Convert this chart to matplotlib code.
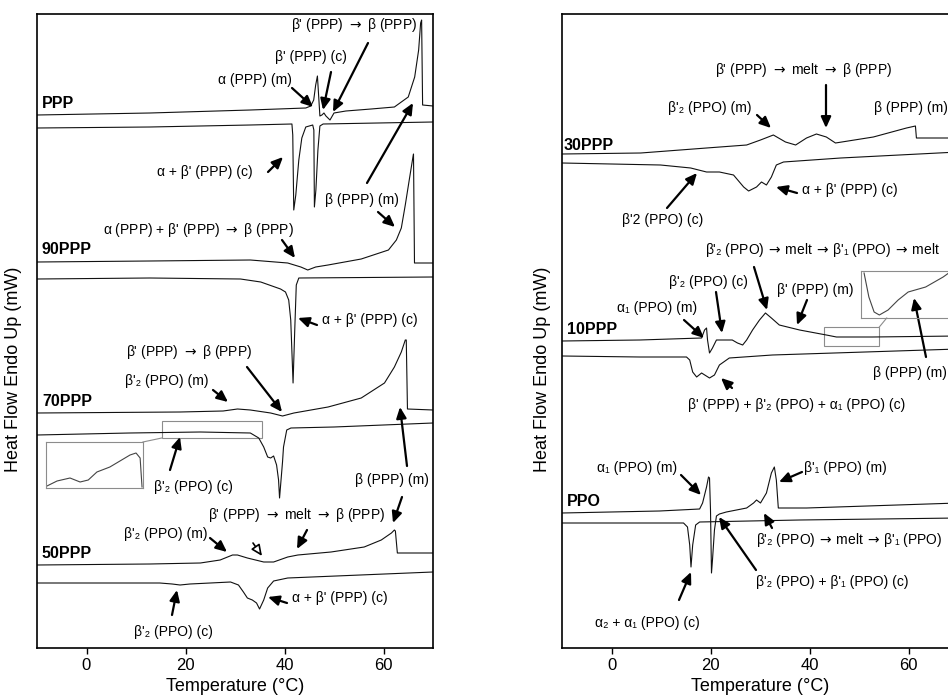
import matplotlib
matplotlib.use('Agg')
import matplotlib.pyplot as plt
from matplotlib.patches import Rectangle

plt.rcParams['font.family'] = ['Liberation Sans', 'DejaVu Sans']
plt.rcParams['mathtext.fontset'] = 'dejavusans'

W_PX, H_PX = 948, 697
TO = r' $\rightarrow$ '
TO_THIN = r'$\,\rightarrow\,$'   # for the labels that run into the right edge

# ---- left panel: PPP-rich blends (T in degC, heat flow in arbitrary units, offset stacked)
ppp_heat_T = [-10, 12.8, 33.1, 44.3, 45.3, 45.9, 46.3, 46.65, 46.95, 47.15, 47.56, 47.97, 48.37,
              49.19, 50.0, 52.4, 57.5, 62.2, 65.0, 66.3, 67.1, 67.5, 67.7, 67.9, 70]
ppp_heat_hf = [533, 535, 538, 540, 542, 548, 563, 572, 548, 532, 533, 535, 532,
               528, 535, 537, 539, 541, 551, 571, 598, 625, 628, 543, 542]
ppp_cool_T = [-10, 12.8, 33.1, 41.5, 41.67, 41.87, 42.28, 42.89, 43.5, 44.3, 45.7, 45.93,
              46.04, 46.34, 46.75, 47.15, 47.8, 70]
ppp_cool_hf = [520, 521, 523, 524, 513, 438, 453, 488, 510, 521, 523, 518,
               441, 458, 498, 522, 524, 526]

p90_heat_T = [-10, 12.8, 33.1, 40.65, 43.3, 44.7, 46.3, 48.8, 55.5, 61.0, 62.6, 63.6, 64.4,
              65.2, 65.85, 66.06, 66.26, 70]
p90_heat_hf = [386, 387, 388, 385, 381, 378, 381, 383, 389, 398, 408, 420, 443,
               468, 488, 494, 385, 385]
p90_cool_T = [-10, 12.8, 31.1, 35.2, 39.2, 40.2, 40.85, 41.26, 41.73, 42.07, 42.38, 42.89, 70]
p90_cool_hf = [369, 370, 369, 366, 359, 356, 348, 328, 265, 318, 363, 370, 371]

p70_heat_T = [-10, 18.9, 27.6, 30.5, 33.1, 37.2, 39.6, 41.9, 48.8, 55.5, 60.2, 62.2, 63.6,
              64.4, 64.6, 64.84, 70]
p70_heat_hf = [235, 236, 237, 239, 238, 235, 232, 235, 241, 250, 265, 281, 296,
               308, 308, 239, 238]
p70_cool_T = [-10, 8.7, 23.0, 33.1, 34.8, 35.8, 36.6, 37.2, 37.8, 38.4, 38.8, 39.0, 39.3,
              39.6, 39.8, 40.45, 41.3, 50.0, 70]
p70_cool_hf = [213, 215, 216, 215, 210, 201, 191, 190, 192, 183, 168, 150, 168,
               186, 201, 218, 220, 221, 225]

p50_heat_T = [-10, 12.8, 23.0, 27.0, 28.5, 29.5, 30.5, 32.5, 35.8, 37.8, 40.65, 42.7, 49.4,
              56.1, 59.55, 61.6, 62.2, 62.4, 62.8, 70]
p50_heat_hf = [83, 84, 85, 88, 91, 93, 93, 90, 86, 86, 91, 93, 96,
               101, 108, 115, 118, 117, 95, 95]
p50_cool_T = [-10, 14.8, 17.3, 18.9, 20.9, 29.1, 30.7, 31.7, 32.5, 33.5, 34.35, 34.96, 35.8,
              36.6, 37.8, 40.65, 70]
p50_cool_hf = [65, 65, 64, 63, 64, 66, 63, 56, 50, 48, 45, 39, 48, 60, 67, 70, 76]

# enlarged view of the 70PPP cooling trace
inset70_T = [15.4, 17.5, 20.2, 22.3, 24.0, 25.8, 28.5, 30.6, 32.7, 33.95, 34.8, 35.2]
inset70_hf = [2, 7, 10, 6, 8, 16, 21, 27, 33, 35, 30, 1]

# ---- right panel: PPO-rich blends
p30_heat_T = [-10, 5.9, 19.2, 27.3, 30.1, 32.7, 35.15, 37.2, 39.4, 41.4, 43.4, 45.25, 52.9,
              59.6, 61.4, 61.6, 70]
p30_heat_hf = [494, 495, 500, 503, 508, 513, 506, 503, 510, 514, 511, 505, 511,
               520, 522, 510, 510]
p30_cool_T = [-10, 9.9, 16.0, 19.2, 21.8, 24.65, 26.7, 27.7, 29.3, 30.3, 31.3, 32.3, 33.3,
              34.75, 46.3, 70]
p30_cool_hf = [485, 483, 480, 476, 476, 473, 461, 457, 461, 466, 463, 471, 483,
               486, 490, 496]

p10_heat_T = [-10, 5.7, 18.2, 18.8, 19.2, 19.4, 19.8, 20.4, 21.2, 24.4, 25.45, 26.5, 27.3,
              28.5, 29.9, 31.1, 32.3, 33.9, 38.0, 43.4, 45.45, 52.7, 70]
p10_heat_hf = [307, 308, 310, 318, 320, 308, 295, 300, 308, 308, 305, 303, 308,
               318, 328, 335, 330, 323, 318, 313, 311, 311, 312]
p10_cool_T = [-10, 5.7, 15.15, 15.8, 16.4, 17.2, 18.2, 19.8, 20.8, 21.8, 23.8, 32.5, 70]
p10_cool_hf = [292, 291, 291, 288, 276, 271, 275, 270, 273, 283, 290, 293, 299]

inset10_T = [43.35, 43.9, 44.5, 45.1, 46.1, 47.25, 48.4, 50.4, 52.4, 53.2, 54.1]
inset10_hf = [45, 21, 6, 3, 8, 18, 26, 31, 41, 46, 50]

ppo_heat_T = [-10, 9.7, 17.8, 18.4, 19.2, 19.6, 19.8, 20.0, 20.2, 20.4, 20.8, 21.2, 21.8,
              23.2, 27.3, 28.7, 29.3, 30.1, 31.3, 32.3, 32.9, 33.3, 33.7, 39.4, 70]
ppo_heat_hf = [135, 137, 139, 145, 161, 171, 170, 138, 75, 88, 118, 132, 134,
               136, 140, 145, 148, 145, 155, 175, 181, 168, 140, 140, 145]
ppo_cool_T = [-10, 14.55, 15.35, 15.8, 16.06, 16.4, 17.0, 17.8, 38.0, 70]
ppo_cool_hf = [125, 125, 121, 103, 81, 103, 123, 126, 128, 130]

x_ticks = [0, 20, 40, 60]

left_curves = [(ppp_heat_T, ppp_heat_hf), (ppp_cool_T, ppp_cool_hf),
               (p90_heat_T, p90_heat_hf), (p90_cool_T, p90_cool_hf),
               (p70_heat_T, p70_heat_hf), (p70_cool_T, p70_cool_hf),
               (p50_heat_T, p50_heat_hf), (p50_cool_T, p50_cool_hf)]
right_curves = [(p30_heat_T, p30_heat_hf), (p30_cool_T, p30_cool_hf),
                (p10_heat_T, p10_heat_hf), (p10_cool_T, p10_cool_hf),
                (ppo_heat_T, ppo_heat_hf), (ppo_cool_T, ppo_cool_hf)]

fig = plt.figure(figsize=(9.48, 6.97), dpi=100)
axL = fig.add_axes([37 / W_PX, 49 / H_PX, 396 / W_PX, 634 / H_PX])
axR = fig.add_axes([562 / W_PX, 49 / H_PX, 396 / W_PX, 634 / H_PX])

for ax, curves in ((axL, left_curves), (axR, right_curves)):
    for T, hf in curves:
        ax.plot(T, hf, color='#111111', lw=0.8)
    ax.set_xlim(-10, 70)
    ax.set_ylim(0, 634)
    ax.set_xticks(x_ticks)
    ax.set_yticks([])
    ax.tick_params(axis='x', direction='out', length=4, width=1, labelsize=12, pad=3)
    for s in ax.spines.values():
        s.set_linewidth(1.2)
    ax.set_xlabel('Temperature (°C)', fontsize=13, labelpad=4)
    ax.set_ylabel('Heat Flow Endo Up (mW)', fontsize=13)

axL.yaxis.set_label_coords(-0.038, 0.44)
axR.yaxis.set_label_coords(-0.028, 0.44)

grey = '#8c8c8c'
# zoom boxes and insets
axL.add_patch(Rectangle((15.2, 210), 20.2, 17, fill=False, ec=grey, lw=0.8))
axL.plot([11.4, 15.2], [206, 210], color=grey, lw=0.8, clip_on=False)
axR.add_patch(Rectangle((43.0, 302), 11.1, 19, fill=False, ec=grey, lw=0.8))
axR.plot([54.1, 55.6], [321, 330], color=grey, lw=0.8, clip_on=False)

insL = fig.add_axes([46 / W_PX, (H_PX - 488) / H_PX, 97 / W_PX, 46 / H_PX])
insL.plot(inset70_T, inset70_hf, color='#444444', lw=0.8)
insL.set_xlim(15.2, 35.4)
insL.set_ylim(0, 46)
insR = fig.add_axes([861 / W_PX, (H_PX - 318) / H_PX, 97 / W_PX, 47 / H_PX])
insR.plot(inset10_T, inset10_hf, color='#444444', lw=0.8)
insR.set_xlim(43.0, 54.1)
insR.set_ylim(0, 47)
for ins in (insL, insR):
    ins.set_xticks([])
    ins.set_yticks([])
    ins.patch.set_alpha(0)
    for s in ins.spines.values():
        s.set_edgecolor(grey)
        s.set_linewidth(0.8)


def put(x, y, s, ha='center', size=10, weight='normal'):
    fig.text(x / W_PX, 1 - y / H_PX, s, ha=ha, va='center', fontsize=size, fontweight=weight)


def arrow(x0, y0, x1, y1, hollow=False):
    ax = axL if x1 < 480 else axR
    ann = ax.annotate('', xy=(x1, H_PX - y1), xytext=(x0, H_PX - y0),
                      xycoords='figure pixels', textcoords='figure pixels',
                      annotation_clip=False,
                      arrowprops=dict(arrowstyle='-|>,head_length=0.55,head_width=0.25',
                                      lw=1.2 if hollow else 1.6, color='k',
                                      fc='white' if hollow else 'k',
                                      shrinkA=0, shrinkB=0, mutation_scale=12))
    ann.arrow_patch.set_clip_on(False)


# sample names
for x, y, s in [(42, 103, 'PPP'), (42, 250, '90PPP'), (42, 402, '70PPP'), (42, 554, '50PPP'),
                (564, 146, '30PPP'), (567, 330, '10PPP'), (567, 502, 'PPO')]:
    put(x, y, s, ha='left', size=11.5, weight='bold')

# left panel annotations
put(354, 25, f"β' (PPP){TO}β (PPP)")
arrow(368, 43, 333, 112)
put(311, 57, "β' (PPP) (c)")
arrow(331, 72, 323, 110)
put(255, 80, "α (PPP) (m)")
arrow(292, 88, 313, 107)
put(205, 172, "α + β' (PPP) (c)")
arrow(268, 172, 283, 157)
put(362, 200, "β (PPP) (m)")
arrow(367, 183, 413, 103)
arrow(378, 212, 395, 227)
put(198, 230, f"α (PPP) + β' (PPP){TO}β (PPP)")
arrow(282, 240, 295, 258)
put(322, 320, "α + β' (PPP) (c)", ha='left')
arrow(317, 325, 298, 318)
put(189, 352, f"β' (PPP){TO}β (PPP)")
arrow(247, 367, 282, 412)
put(167, 381, "β'₂ (PPO) (m)")
arrow(213, 390, 228, 402)
put(193, 487, "β'₂ (PPO) (c)")
arrow(170, 470, 180, 437)
put(392, 480, "β (PPP) (m)")
arrow(407, 466, 400, 407)
arrow(402, 497, 393, 523)
put(297, 515, f"β' (PPP){TO}melt{TO}β (PPP)")
arrow(307, 530, 297, 549)
put(166, 534, "β'₂ (PPO) (m)")
arrow(210, 538, 227, 552)
arrow(253, 543, 262, 556, hollow=True)
put(292, 598, "α + β' (PPP) (c)", ha='left')
arrow(287, 603, 268, 597)
put(173, 632, "β'₂ (PPO) (c)")
arrow(172, 615, 177, 590)

# right panel annotations
put(804, 70, f"β' (PPP){TO}melt{TO}β (PPP)")
arrow(826, 85, 826, 128)
put(710, 108, "β'₂ (PPO) (m)")
arrow(757, 115, 771, 128)
put(874, 108, "β (PPP) (m)", ha='left')
put(802, 190, "α + β' (PPP) (c)", ha='left')
arrow(797, 193, 776, 187)
put(663, 220, "β'2 (PPO) (c)")
arrow(667, 208, 697, 173)
put(705, 250, f"β'₂ (PPO){TO_THIN}melt{TO_THIN}β'₁ (PPO){TO_THIN}melt", ha='left')
arrow(754, 267, 767, 310)
put(708, 282, "β'₂ (PPO) (c)")
arrow(716, 292, 722, 333)
put(815, 290, "β' (PPP) (m)")
arrow(807, 300, 797, 325)
put(657, 308, "α₁ (PPO) (m)")
arrow(684, 320, 704, 338)
put(873, 373, "β (PPP) (m)", ha='left')
arrow(926, 357, 914, 298)
put(797, 405, "β' (PPP) + β'₂ (PPO) + α₁ (PPO) (c)")
arrow(732, 388, 721, 378)
put(637, 468, "α₁ (PPO) (m)")
arrow(681, 475, 701, 495)
put(804, 468, "β'₁ (PPO) (m)", ha='left')
arrow(802, 472, 779, 482)
put(756, 540, f"β'₂ (PPO){TO_THIN}melt{TO_THIN}β'₁ (PPO)", ha='left')
arrow(772, 528, 764, 513)
put(756, 582, "β'₂ (PPO) + β'₁ (PPO) (c)", ha='left')
arrow(756, 570, 719, 517)
put(647, 623, "α₂ + α₁ (PPO) (c)")
arrow(679, 600, 691, 572)

fig.savefig('out.png', dpi=100)
